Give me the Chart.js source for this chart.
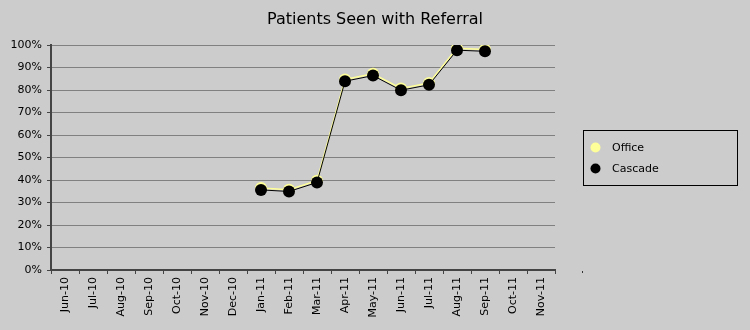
<!DOCTYPE html>
<html>
<head>
<meta charset="utf-8">
<script src="https://cdn.jsdelivr.net/npm/chart.js@4"></script>
<style>
  html, body { margin: 0; padding: 0; background: #cccccc; }
  #wrap { width: 750px; height: 330px; }
</style>
</head>
<body>
<div id="wrap"><canvas id="line-chart" width="750" height="330"></canvas></div>
<script>
  // month labels along the bottom
  const months = ['Jun-10', 'Jul-10', 'Aug-10', 'Sep-10', 'Oct-10', 'Nov-10', 'Dec-10',
    'Jan-11', 'Feb-11', 'Mar-11', 'Apr-11', 'May-11', 'Jun-11', 'Jul-11', 'Aug-11',
    'Sep-11', 'Oct-11', 'Nov-11'];

  // percent values
  const officeValues = [null, null, null, null, null, null, null,
    36.4, 35.7, 39.7, 84.7, 87.2, 80.7, 83.1, 98.5, 98.0, null, null];
  const cascadeValues = [null, null, null, null, null, null, null,
    35.6, 34.9, 38.9, 83.9, 86.4, 79.9, 82.3, 97.7, 97.2, null, null];

  const seriesNames = ['Office', 'Cascade'];
  const seriesColors = ['#ffff99', '#000000'];
  const chartTitle = 'Patients Seen with Referral';

  const FONT = 'DejaVu Sans';

  // title across the whole picture, plus legend box on the right
  const boxLegend = {
    id: 'boxLegend',
    afterDraw(chart) {
      const ctx = chart.ctx;
      ctx.save();
      ctx.fillStyle = '#000';
      ctx.font = '16px ' + FONT;
      ctx.textAlign = 'center';
      ctx.textBaseline = 'middle';
      ctx.fillText(chartTitle, 375, 20);

      ctx.textAlign = 'left';
      ctx.strokeStyle = '#000';
      ctx.lineWidth = 1;
      ctx.strokeRect(583.5, 130.5, 154, 55);
      ctx.font = '11px ' + FONT;
      chart.data.datasets.forEach(function (ds, i) {
        const y = 147.5 + i * 21;
        ctx.fillStyle = ds.backgroundColor;
        ctx.beginPath();
        ctx.arc(595.5, y, 5, 0, Math.PI * 2);
        ctx.fill();
        ctx.fillStyle = '#000';
        ctx.fillText(ds.label, 612, y + 1);
      });
      // small stray mark right of the axis end
      ctx.fillStyle = '#333';
      ctx.fillRect(582, 271, 1, 2);
      ctx.restore();
    }
  };

  const chartElement = document.getElementById('line-chart');

  const myChart = new Chart(chartElement, {
    type: 'line',
    data: {
      labels: months,
      datasets: [
        {
          label: seriesNames[0],
          data: officeValues,
          borderColor: seriesColors[0],
          backgroundColor: seriesColors[0],
          borderWidth: 1.5,
          pointRadius: 6,
          pointBorderWidth: 0,
          pointHoverRadius: 6,
          order: 1
        },
        {
          label: seriesNames[1],
          data: cascadeValues,
          borderColor: seriesColors[1],
          backgroundColor: seriesColors[1],
          borderWidth: 1,
          pointRadius: 6,
          pointBorderWidth: 0,
          pointHoverRadius: 6,
          order: 0
        }
      ]
    },
    options: {
      responsive: false,
      animation: false,
      layout: { padding: { left: 0, right: 195, top: 45, bottom: 0 } },
      plugins: {
        legend: { display: false },
        tooltip: { enabled: false },
        title: { display: false }
      },
      scales: {
        x: {
          offset: true,
          grid: {
            offset: true,
            drawOnChartArea: false,
            color: '#444',
            tickLength: 4
          },
          border: { color: '#444', width: 2 },
          ticks: {
            color: '#000',
            font: { family: FONT, size: 11 },
            minRotation: 90,
            maxRotation: 90,
            padding: 3,
            autoSkip: false
          },
          afterFit(scale) { scale.height = 60; }
        },
        y: {
          min: 0,
          max: 100,
          grid: {
            color: '#808080',
            lineWidth: 1,
            tickLength: 4,
            tickColor: '#444'
          },
          border: { color: '#444', width: 2 },
          ticks: {
            stepSize: 10,
            color: '#000',
            font: { family: FONT, size: 11 },
            padding: 5,
            callback: function (v) { return v + '%'; }
          },
          afterFit(scale) { scale.width = 51; }
        }
      }
    },
    plugins: [boxLegend]
  });
</script>
</body>
</html>
